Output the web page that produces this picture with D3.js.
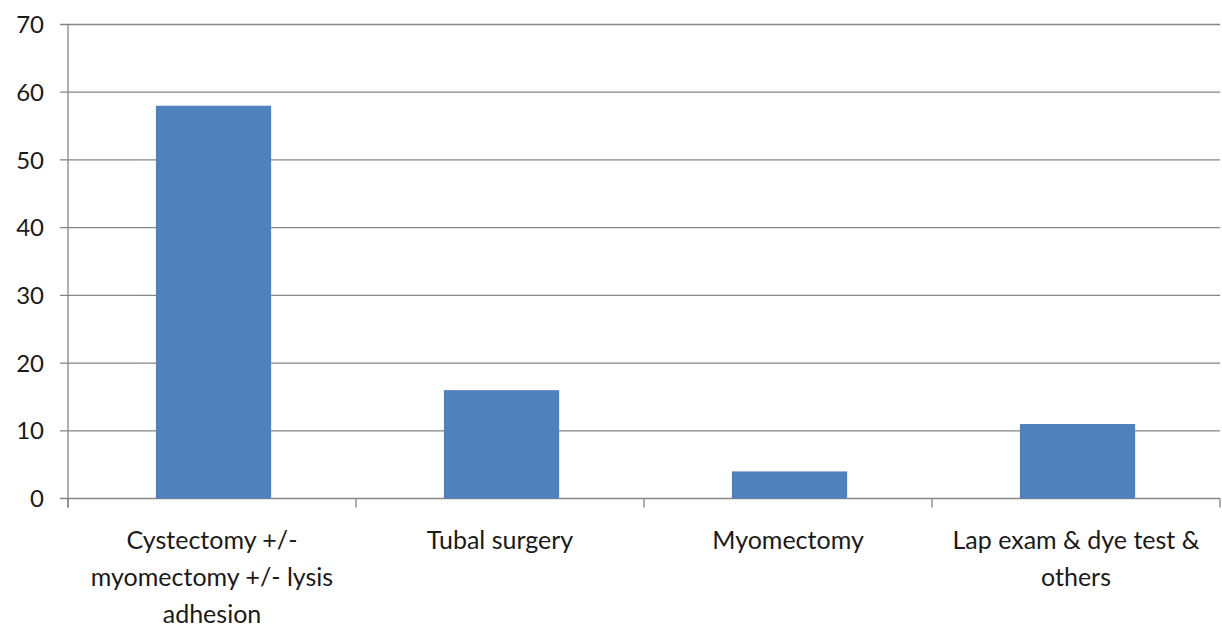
<!DOCTYPE html>
<html>
<head>
<meta charset="utf-8">
<script src="https://cdn.jsdelivr.net/npm/d3@7"></script>
<style>
  body { margin: 0; background: #fff; }
  svg text { font-family: Lato, "Open Sans", sans-serif; fill: #1a1a1a; }
</style>
</head>
<body>
<svg width="1222" height="629"></svg>
<script>
// data
var categories = [
  ["Cystectomy +/-", "myomectomy +/- lysis", "adhesion"],
  ["Tubal surgery"],
  ["Myomectomy"],
  ["Lap exam & dye test &", "others"]
];
var values = [58, 16, 4, 11];
var yTicks = [0, 10, 20, 30, 40, 50, 60, 70];

var svg = d3.select("svg"),
    margin = {top: 24.5, right: 2, bottom: 130.5, left: 68},
    width = +svg.attr("width") - margin.left - margin.right,
    height = +svg.attr("height") - margin.top - margin.bottom;

var x = d3.scaleBand()
    .domain(d3.range(values.length))
    .range([0, width])
    .paddingInner(0.6)
    .paddingOuter(0.3);

var y = d3.scaleLinear().domain([0, 70]).range([height, 0]);

var g = svg.append("g")
    .attr("transform", "translate(" + margin.left + "," + margin.top + ")");

// gridlines + y ticks
g.selectAll(".grid")
  .data(yTicks)
  .enter().append("line")
    .attr("x1", -8)
    .attr("x2", width)
    .attr("y1", function(d) { return y(d); })
    .attr("y2", function(d) { return y(d); })
    .attr("stroke", "#868686")
    .attr("stroke-width", 1.3);

g.selectAll(".ylab")
  .data(yTicks)
  .enter().append("text")
    .attr("x", -24)
    .attr("y", function(d) { return y(d); })
    .attr("dy", "0.36em")
    .attr("text-anchor", "end")
    .style("font-size", "24px")
    .text(function(d) { return d; });

// y-as lijn
g.append("line")
    .attr("x1", 0).attr("x2", 0)
    .attr("y1", 0).attr("y2", height + 9)
    .attr("stroke", "#868686")
    .attr("stroke-width", 1.3);

// categorie scheidingsstreepjes
var step = x.step();
g.selectAll(".xtick")
  .data(d3.range(values.length + 1))
  .enter().append("line")
    .attr("x1", function(i) { return Math.min(i * step, width); })
    .attr("x2", function(i) { return Math.min(i * step, width); })
    .attr("y1", height)
    .attr("y2", height + 9)
    .attr("stroke", "#868686")
    .attr("stroke-width", 1.3);

// bars
g.selectAll(".bar")
  .data(values)
  .enter().append("rect")
    .attr("class", "bar")
    .attr("x", function(d, i) { return x(i) + 1.5; })
    .attr("y", function(d) { return y(d); })
    .attr("width", x.bandwidth())
    .attr("height", function(d) { return height - y(d); })
    .attr("fill", "#4f81bd");

// categorie labels
var labels = g.selectAll(".xlab")
  .data(categories)
  .enter().append("text")
    .attr("text-anchor", "middle")
    .style("font-size", "25px")
    .attr("transform", function(d, i) {
      return "translate(" + (x(i) + x.bandwidth() / 2) + "," + (height + 50) + ")";
    });

labels.selectAll("tspan")
  .data(function(d) { return d; })
  .enter().append("tspan")
    .attr("x", 0)
    .attr("y", function(d, j) { return j * 37; })
    .text(function(d) { return d; });
</script>
</body>
</html>
